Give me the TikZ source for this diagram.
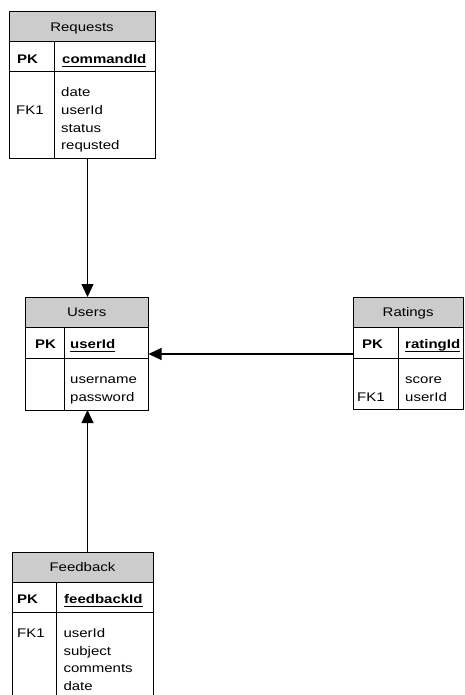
\documentclass[tikz,border=0pt]{standalone}
\usepackage{fontspec}
\setmainfont[FakeStretch=1.2]{Liberation Sans}
\usetikzlibrary{arrows.meta}
\definecolor{headgray}{RGB}{204,204,204}
\newcommand{\ulkey}[1]{\setbox0\hbox{#1}\rlap{\vrule height -2.2pt depth 3.6pt width \wd0}\box0}

\begin{document}
\begin{tikzpicture}[x=1pt,y=-1pt,font=\fontsize{12.5}{17.6}\selectfont,
	box/.style={draw=black,line width=1pt,anchor=north west,inner sep=0pt,outer sep=0pt},
	head/.style={box,fill=headgray,text height=9pt,text depth=0pt},
	keytext/.style={anchor=base west,inner sep=0pt,font=\fontsize{12.5}{17.6}\selectfont\bfseries},
	fieldtext/.style={anchor=base west,inner sep=0pt,align=left},
	rule/.style={draw=black,line width=1pt},
	link/.style={draw=black,line width=1.2pt,-{Triangle[width=12pt,length=13pt]}}]

	\useasboundingbox (0,0) rectangle (464,695);
	\clip (0,0) rectangle (464,695);

	% Requests
	\node[head,minimum width=146,minimum height=30] (reqhead) at (9,12) {Requests};
	\node[box,minimum width=146,minimum height=29.5] (reqkey) at (reqhead.south west) {};
	\node[box,minimum width=146,minimum height=87] (reqbody) at (reqkey.south west) {};
	\draw[rule] ([xshift=45pt]reqkey.north west) -- ([xshift=45pt]reqbody.south west);
	\node[keytext] (reqpk) at (17,63.5) {PK};
	\node[keytext] (reqid) at (62,63.5) {\ulkey{commandId}};
	\node[fieldtext] (reqfk) at (16,114.6) {FK1};
	\node[fieldtext] (reqfields) at (61,149.8) {date\\userId\\status\\requsted};

	% Users
	\node[head,minimum width=123.5,minimum height=30.5] (usershead) at (25,297) {Users};
	\node[box,minimum width=123.5,minimum height=30.5] (userskey) at (usershead.south west) {};
	\node[box,minimum width=123.5,minimum height=52] (usersbody) at (userskey.south west) {};
	\draw[rule] ([xshift=39pt]userskey.north west) -- ([xshift=39pt]usersbody.south west);
	\node[keytext] (userspk) at (35,348.5) {PK};
	\node[keytext] (usersid) at (70,348.5) {\ulkey{userId}};
	\node[fieldtext] (usersfields) at (70,401.1) {username\\password};

	% Ratings
	\node[head,minimum width=109.7,minimum height=30.5] (rathead) at (353.3,297) {Ratings};
	\node[box,minimum width=109.7,minimum height=30.5] (ratkey) at (rathead.south west) {};
	\node[box,minimum width=109.7,minimum height=51] (ratbody) at (ratkey.south west) {};
	\draw[rule] ([xshift=44.7pt]ratkey.north west) -- ([xshift=44.7pt]ratbody.south west);
	\node[keytext] (ratpk) at (362,348.5) {PK};
	\node[keytext] (ratid) at (405,348.5) {\ulkey{ratingId}};
	\node[fieldtext] (ratfk) at (357,401.1) {FK1};
	\node[fieldtext] (ratfields) at (405,401.1) {score\\userId};

	% Feedback
	\node[head,minimum width=141,minimum height=30] (fbhead) at (12,552) {Feedback};
	\node[box,minimum width=141,minimum height=30] (fbkey) at (fbhead.south west) {};
	\node[box,minimum width=141,minimum height=90] (fbbody) at (fbkey.south west) {};
	\draw[rule] ([xshift=44.7pt]fbkey.north west) -- ([xshift=44.7pt]fbbody.south west);
	\node[keytext] (fbpk) at (17,603.5) {PK};
	\node[keytext] (fbid) at (64,603.5) {\ulkey{feedbackId}};
	\node[fieldtext] (fbfk) at (17,637.5) {FK1};
	\node[fieldtext] (fbfields) at (63.3,690.3) {userId\\subject\\comments\\date};

	% links
	\coordinate (vlink) at (87.5,0);
	\coordinate (hlink) at (0,354);
	\draw[link] (reqbody.south -| vlink) -- (usershead.north -| vlink);
	\draw[link] (ratkey.west |- hlink) -- (userskey.east |- hlink);
	\draw[link] (fbhead.north -| vlink) -- (usersbody.south -| vlink);

\end{tikzpicture}
\end{document}
